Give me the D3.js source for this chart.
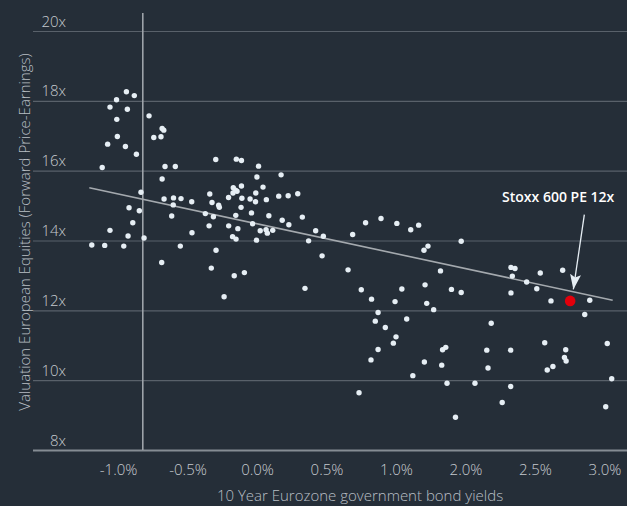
<!DOCTYPE html>
<html>
<head>
<meta charset="utf-8">
<script src="https://cdn.jsdelivr.net/npm/d3@7"></script>
<style>
body { margin: 0; background: #252e38; }
svg { display: block; font-family: "Open Sans", sans-serif; }
</style>
</head>
<body>
<svg width="627" height="506"></svg>
<script>
// 10y Eurozone govt bond yield (as plotted) vs forward PE of European equities
var yields = [-1.189,-1.096,-0.959,-1.058,-0.928,-0.894,-0.921,-0.847,-0.835,-0.813,
  -1.114,-1.075,-1.005,-0.947,-0.868,-1.009,-1.058,-0.933,-1.011,-0.940,
  -0.883,-0.777,-0.743,-0.691,-0.683,-0.671,-0.662,-0.588,-0.683,-0.669,
  -0.601,-0.547,-0.603,-0.614,-0.470,-0.468,-0.552,-0.295,-0.297,-0.149,
  -0.112,0.011,-0.001,0.173,-0.112,-0.171,-0.155,-0.173,-0.144,-0.205,
  -0.109,-0.050,-0.009,-0.011,0.043,0.067,0.156,0.224,0.293,-0.340,
  -0.324,-0.276,-0.271,-0.372,-0.314,-0.345,-0.204,-0.138,-0.153,-0.115,
  -0.040,0.085,-0.032,0.023,0.065,0.074,0.113,0.181,0.229,0.326,
  -0.176,-0.151,-0.004,0.371,0.422,0.477,0.688,0.781,0.892,1.006,
  1.106,1.163,0.468,0.655,1.201,1.230,1.320,1.469,0.345,0.750,
  1.042,1.209,-0.686,-0.329,-0.164,-0.091,-0.237,0.824,0.871,0.851,
  0.923,0.820,0.871,0.993,1.221,1.271,1.399,1.469,1.077,1.000,
  0.981,1.204,1.121,1.329,1.335,1.358,1.367,1.568,1.428,1.685,
  1.653,1.662,1.764,1.825,1.825,0.734,1.827,1.856,1.837,1.827,
  1.940,2.013,2.038,2.199,2.115,2.394,2.358,2.070,2.221,2.212,
  2.224,2.129,2.088,2.520,2.552,2.509];
var pes = [13.87,13.86,13.84,14.29,14.13,14.51,14.94,14.85,15.38,14.07,
  16.09,16.76,16.98,16.69,16.47,17.47,17.82,17.76,18.03,18.26,
  18.15,17.57,16.95,16.97,17.21,17.16,16.12,16.12,15.76,15.19,
  15.22,15.20,15.02,14.70,15.11,14.22,13.84,13.72,16.32,16.33,
  16.29,16.13,15.82,15.88,15.56,15.51,15.44,15.36,15.41,15.23,
  15.21,15.19,15.36,15.11,15.53,15.17,15.27,15.28,15.34,15.33,
  15.09,15.01,14.95,14.77,14.68,14.42,14.42,14.34,14.72,14.95,
  14.79,14.71,14.48,14.28,14.31,14.21,14.29,14.58,14.45,14.67,
  14.11,14.04,14.01,13.99,14.28,14.12,14.17,14.51,14.63,14.49,
  14.31,14.44,13.56,13.16,13.72,13.84,13.13,13.98,12.63,12.59,
  12.61,12.73,13.37,13.21,12.99,13.08,12.39,12.32,11.94,11.69,
  11.51,10.58,10.88,12.25,12.20,12.02,12.60,12.51,11.75,11.24,
  11.06,10.52,10.13,10.43,10.87,10.94,9.91,9.91,8.94,11.63,
  10.86,10.35,9.36,9.82,10.86,9.64,13.23,13.20,12.98,12.50,
  12.81,12.62,13.07,13.15,12.27,12.29,11.88,11.07,10.87,10.65,
  10.55,10.39,10.29,11.05,10.04,9.24];

var current = { yield: 2.253, pe: 12.27 };   // Stoxx 600 today
var trendX = [-1.207, 2.559];
var trendY = [15.51, 12.29];

var xTicks = [-1, -0.5, 0, 0.5, 1, 1.5, 2, 2.5];
var xTickLabels = ['-1.0%', '-0.5%', '0.0%', '0.5%', '1.0%', '2.0%', '2.5%', '3.0%'];
var yTicks = [8, 10, 12, 14, 16, 18, 20];

var svg = d3.select('svg');
var left = 33, right = 627;

var x = d3.scaleLinear().domain([-1.612, 2.662]).range([left, right]);
var y = d3.scaleLinear().domain([8, 20]).range([450, 31]);

// horizontal grid + y labels
var gy = svg.append('g').attr('transform', 'translate(' + left + ',0)')
  .call(d3.axisRight(y).tickValues(yTicks).tickSize(right - left).tickFormat(function(d){ return d + 'x'; }));
gy.select('.domain').remove();
gy.selectAll('.tick line')
  .attr('stroke', function(d){ return d == 8 ? '#858c93' : '#59616a'; })
  .attr('stroke-width', function(d){ return d == 8 ? 2 : 1.2; });
gy.selectAll('.tick text')
  .attr('x', 33).attr('dy', -5).attr('text-anchor', 'end')
  .attr('fill', '#c5cacf').style('font-size', '15px').style('font-weight', 300)
  .style('font-family', '"Open Sans", sans-serif');

// vertical reference line
svg.append('line')
  .attr('x1', x(-0.822)).attr('x2', x(-0.822))
  .attr('y1', 13).attr('y2', y(8))
  .attr('stroke', '#9da3a9').attr('stroke-width', 1.6);

// x axis labels
var gx = svg.append('g').attr('transform', 'translate(0,' + y(8) + ')')
  .call(d3.axisBottom(x).tickValues(xTicks).tickSize(0).tickPadding(14.5)
    .tickFormat(function(d, i){ return xTickLabels[i]; }));
gx.select('.domain').remove();
gx.selectAll('.tick text')
  .attr('fill', '#c5cacf').style('font-size', '15px').style('font-weight', 300)
  .style('font-family', '"Open Sans", sans-serif');

// trend line
svg.append('line')
  .attr('x1', x(trendX[0])).attr('y1', y(trendY[0]))
  .attr('x2', x(trendX[1])).attr('y2', y(trendY[1]))
  .attr('stroke', '#a4a9ae').attr('stroke-width', 1.6);

// points
svg.append('g').selectAll('circle')
  .data(yields)
  .join('circle')
  .attr('cx', function(d){ return x(d); })
  .attr('cy', function(d, i){ return y(pes[i]); })
  .attr('r', 2.7)
  .attr('fill', '#e6eef4');

svg.append('circle')
  .attr('cx', x(current.yield)).attr('cy', y(current.pe))
  .attr('r', 5.3).attr('fill', '#e3000b');

// annotation
svg.append('defs').append('marker')
  .attr('id', 'head').attr('viewBox', '0 0 15 11')
  .attr('refX', 15).attr('refY', 5.5)
  .attr('markerWidth', 15).attr('markerHeight', 11)
  .attr('markerUnits', 'userSpaceOnUse').attr('orient', 'auto')
  .append('path').attr('d', 'M0,0 L15,5.5 L0,11 L3,5.5 Z').attr('fill', '#e6eef4');

svg.append('line')
  .attr('x1', x(2.355)).attr('y1', y(14.74))
  .attr('x2', x(2.276)).attr('y2', y(12.6))
  .attr('stroke', '#e6eef4').attr('stroke-width', 1.3)
  .attr('marker-end', 'url(#head)');

svg.append('text')
  .attr('x', x(2.571)).attr('y', y(15.09))
  .attr('text-anchor', 'end').attr('fill', '#ffffff')
  .style('font-size', '14px').style('font-weight', 600)
  .text('Stoxx 600 PE 12x');

// axis titles
svg.append('text')
  .attr('x', 360).attr('y', 501)
  .attr('text-anchor', 'middle').attr('fill', '#b9bfc5')
  .style('font-size', '15px').style('font-weight', 300)
  .text('10 Year Eurozone government bond yields');

svg.append('text')
  .attr('transform', 'translate(30,232) rotate(-90)')
  .attr('text-anchor', 'middle').attr('fill', '#b9bfc5')
  .style('font-size', '15px').style('font-weight', 300)
  .text('Valuation European Equities (Forward Price-Earnings)');
</script>
</body>
</html>
